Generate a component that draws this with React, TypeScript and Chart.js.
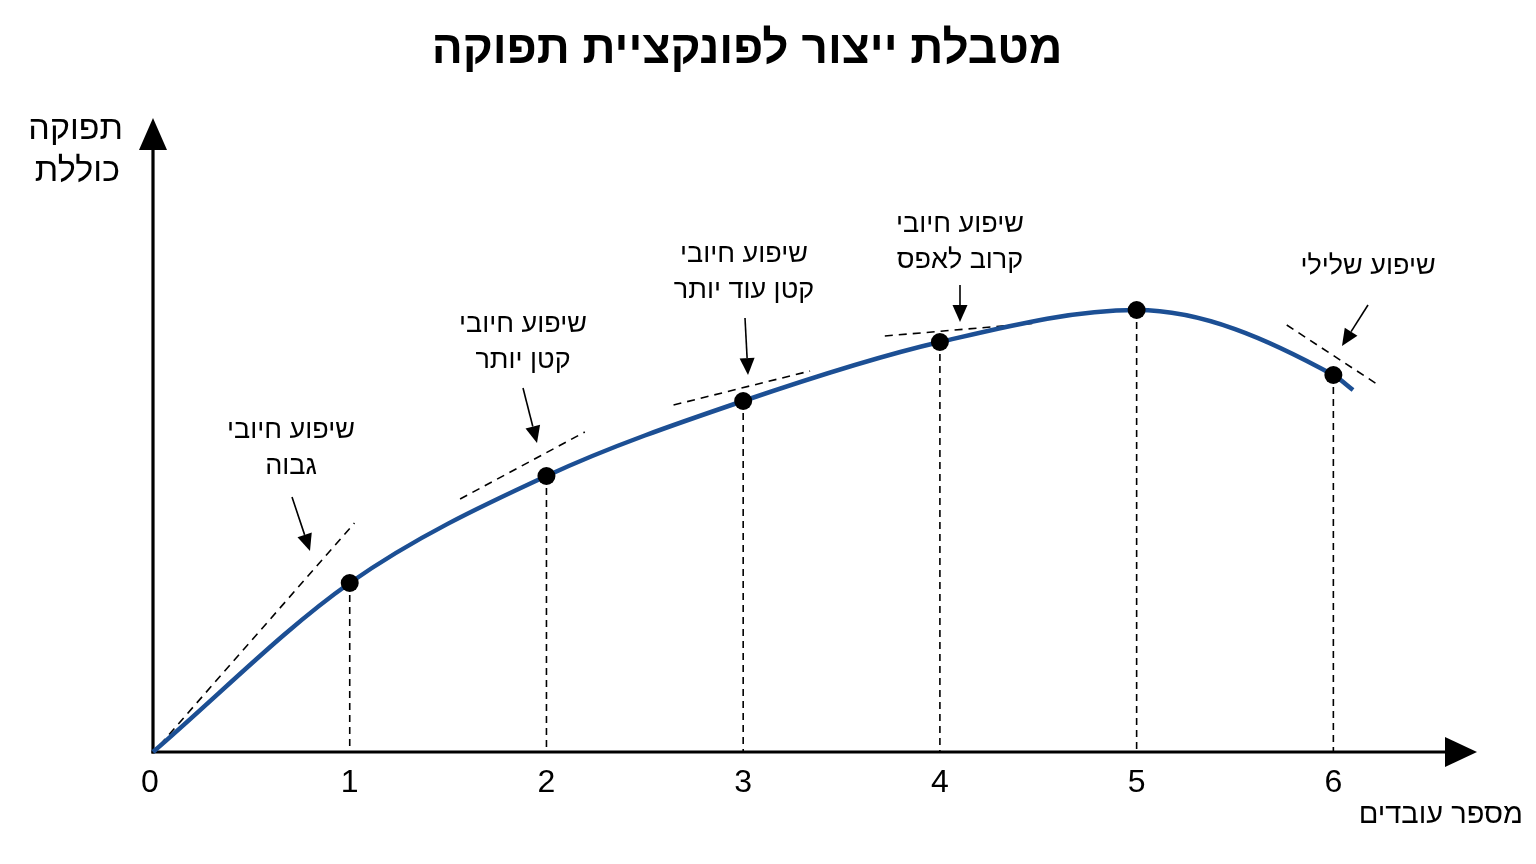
import React, { useEffect, useRef } from "react";
import { Chart, registerables } from "chart.js";

Chart.register(...registerables);

// ---- data ----
const workers = [0, 1, 2, 3, 4, 5, 6, 6.1];
const totalOutput = [0, 16.9, 27.6, 35.1, 41.0, 44.2, 37.7, 36.2];
const markedWorkers = [1, 2, 3, 4, 5, 6];
const tickLabels = ["0", "1", "2", "3", "4", "5", "6"];

// tangent segments: [x1, y1, x2, y2] in data units
const tangent1 = [0.035, 0.7, 1.024, 22.9];
const tangent2 = [1.561, 25.3, 2.195, 32.0];
const tangent3 = [2.646, 34.7, 3.34, 38.1];
const tangent4 = [3.72, 41.6, 4.496, 42.9];
const tangent5 = [5.763, 42.7, 6.229, 36.7];
const tangents = [tangent1, tangent2, tangent3, tangent4, tangent5];

const titleText = "מטבלת ייצור לפונקציית תפוקה";
const yAxisTitle = ["תפוקה", "כוללת"];
const xAxisTitle = "מספר עובדים";
const annotationTexts = [
  ["שיפוע חיובי", "גבוה"],
  ["שיפוע חיובי", "קטן יותר"],
  ["שיפוע חיובי", "קטן עוד יותר"],
  ["שיפוע חיובי", "קרוב לאפס"],
  ["שיפוע שלילי"],
];

// ---- layout (pixels) ----
const annotationLayout = [
  { cx: 291, y: 431, from: [292, 497], to: [310, 551] },
  { cx: 523, y: 325, from: [523, 388], to: [537, 443] },
  { cx: 744, y: 255, from: [745, 318], to: [748, 375] },
  { cx: 960, y: 225, from: [960, 285], to: [960, 322] },
  { cx: 1368, y: 267, from: [1368, 305], to: [1342, 346] },
];

const FONT = "'Liberation Sans', Arial, 'DejaVu Sans', sans-serif";
const BLUE = "#1c4f94";

function drawArrow(ctx: CanvasRenderingContext2D, x1: number, y1: number, x2: number, y2: number, headLen: number, headHalf: number, lw: number) {
  const ang = Math.atan2(y2 - y1, x2 - x1);
  const bx = x2 - headLen * Math.cos(ang);
  const by = y2 - headLen * Math.sin(ang);
  ctx.save();
  ctx.strokeStyle = "#000";
  ctx.fillStyle = "#000";
  ctx.lineWidth = lw;
  ctx.setLineDash([]);
  ctx.beginPath();
  ctx.moveTo(x1, y1);
  ctx.lineTo(bx, by);
  ctx.stroke();
  ctx.beginPath();
  ctx.moveTo(x2, y2);
  ctx.lineTo(bx + headHalf * Math.sin(ang), by - headHalf * Math.cos(ang));
  ctx.lineTo(bx - headHalf * Math.sin(ang), by + headHalf * Math.cos(ang));
  ctx.closePath();
  ctx.fill();
  ctx.restore();
}

const decorPlugin = {
  id: "decor",
  beforeDatasetsDraw(chart: any) {
    const ctx = chart.ctx as CanvasRenderingContext2D;
    const xs = chart.scales.x;
    const ys = chart.scales.y;
    const x0 = xs.getPixelForValue(0);
    const y0 = ys.getPixelForValue(0);
    // drop lines
    ctx.save();
    ctx.strokeStyle = "#000";
    ctx.lineWidth = 1.6;
    ctx.setLineDash([7, 5]);
    markedWorkers.forEach((w) => {
      const i = workers.indexOf(w);
      const px = xs.getPixelForValue(w);
      const py = ys.getPixelForValue(totalOutput[i]);
      ctx.beginPath();
      ctx.moveTo(px, py);
      ctx.lineTo(px, y0);
      ctx.stroke();
    });
    ctx.restore();
    // axes
    drawArrow(ctx, x0, y0 + 1.5, x0, chart.chartArea.top, 32, 14, 3.2);
    drawArrow(ctx, x0 - 1.5, y0, chart.chartArea.right + 2, y0, 32, 15, 3.2);
  },
  afterDraw(chart: any) {
    const ctx = chart.ctx as CanvasRenderingContext2D;
    const xs = chart.scales.x;
    const ys = chart.scales.y;
    const y0 = ys.getPixelForValue(0);
    ctx.save();
    ctx.fillStyle = "#000";
    ctx.textBaseline = "middle";
    ctx.direction = "rtl" as any;
    // title
    ctx.textAlign = "center";
    ctx.font = `bold 46px ${FONT}`;
    ctx.fillText(titleText, 747, 50);
    // y axis title
    ctx.textAlign = "right";
    ctx.font = `34px ${FONT}`;
    ctx.fillText(yAxisTitle[0], 123, 130);
    ctx.fillText(yAxisTitle[1], 120, 172);
    // x axis title
    ctx.font = `29px ${FONT}`;
    ctx.fillText(xAxisTitle, 1523, 815);
    // tick labels
    ctx.direction = "ltr" as any;
    ctx.textAlign = "center";
    ctx.font = `32px ${FONT}`;
    tickLabels.forEach((t, i) => {
      const px = xs.getPixelForValue(i) - (i === 0 ? 3 : 0);
      ctx.fillText(t, px, y0 + 31);
    });
    // annotations
    ctx.direction = "rtl" as any;
    ctx.font = `27px ${FONT}`;
    annotationTexts.forEach((lines, i) => {
      const a = annotationLayout[i];
      lines.forEach((ln, j) => ctx.fillText(ln, a.cx, a.y + j * 36));
      drawArrow(ctx, a.from[0], a.from[1], a.to[0], a.to[1], 17, 7.5, 1.6);
    });
    ctx.restore();
  },
};

export default function App() {
  const ref = useRef<HTMLCanvasElement | null>(null);
  useEffect(() => {
    if (!ref.current) return;
    const curve = workers.map((w, i) => ({ x: w, y: totalOutput[i] }));
    const tangentSets = tangents.map((t) => ({
      type: "line" as const,
      data: [
        { x: t[0], y: t[1] },
        { x: t[2], y: t[3] },
      ],
      borderColor: "#000",
      borderWidth: 1.6,
      borderDash: [8, 6],
      pointRadius: 0,
      tension: 0,
      clip: false as any,
    }));
    const chart = new Chart(ref.current, {
      type: "line",
      data: {
        datasets: [
          {
            data: curve,
            borderColor: BLUE,
            borderWidth: 4.5,
            cubicInterpolationMode: "monotone",
            pointRadius: (c: any) => (markedWorkers.includes(workers[c.dataIndex]) ? 9 : 0),
            pointBackgroundColor: "#000",
            pointBorderColor: "#000",
            pointBorderWidth: 0,
            clip: false as any,
            order: 0,
          } as any,
          ...tangentSets.map((s) => ({ ...s, order: 1 })),
        ],
      },
      options: {
        responsive: false,
        animation: false,
        parsing: true,
        layout: { padding: { left: 153, right: 61, top: 118, bottom: 112 } },
        plugins: { legend: { display: false }, tooltip: { enabled: false }, title: { display: false } },
        scales: {
          x: { type: "linear", min: 0, max: 6.72, display: false },
          y: { type: "linear", min: 0, max: 63.4, display: false },
        },
        events: [],
      },
      plugins: [decorPlugin],
    });
    return () => chart.destroy();
  }, []);
  return (
    <div style={{ position: "fixed", left: 0, top: 0, width: 1536, height: 864, background: "#fff" }}>
      <canvas ref={ref} width={1536} height={864} style={{ display: "block" }} />
    </div>
  );
}
